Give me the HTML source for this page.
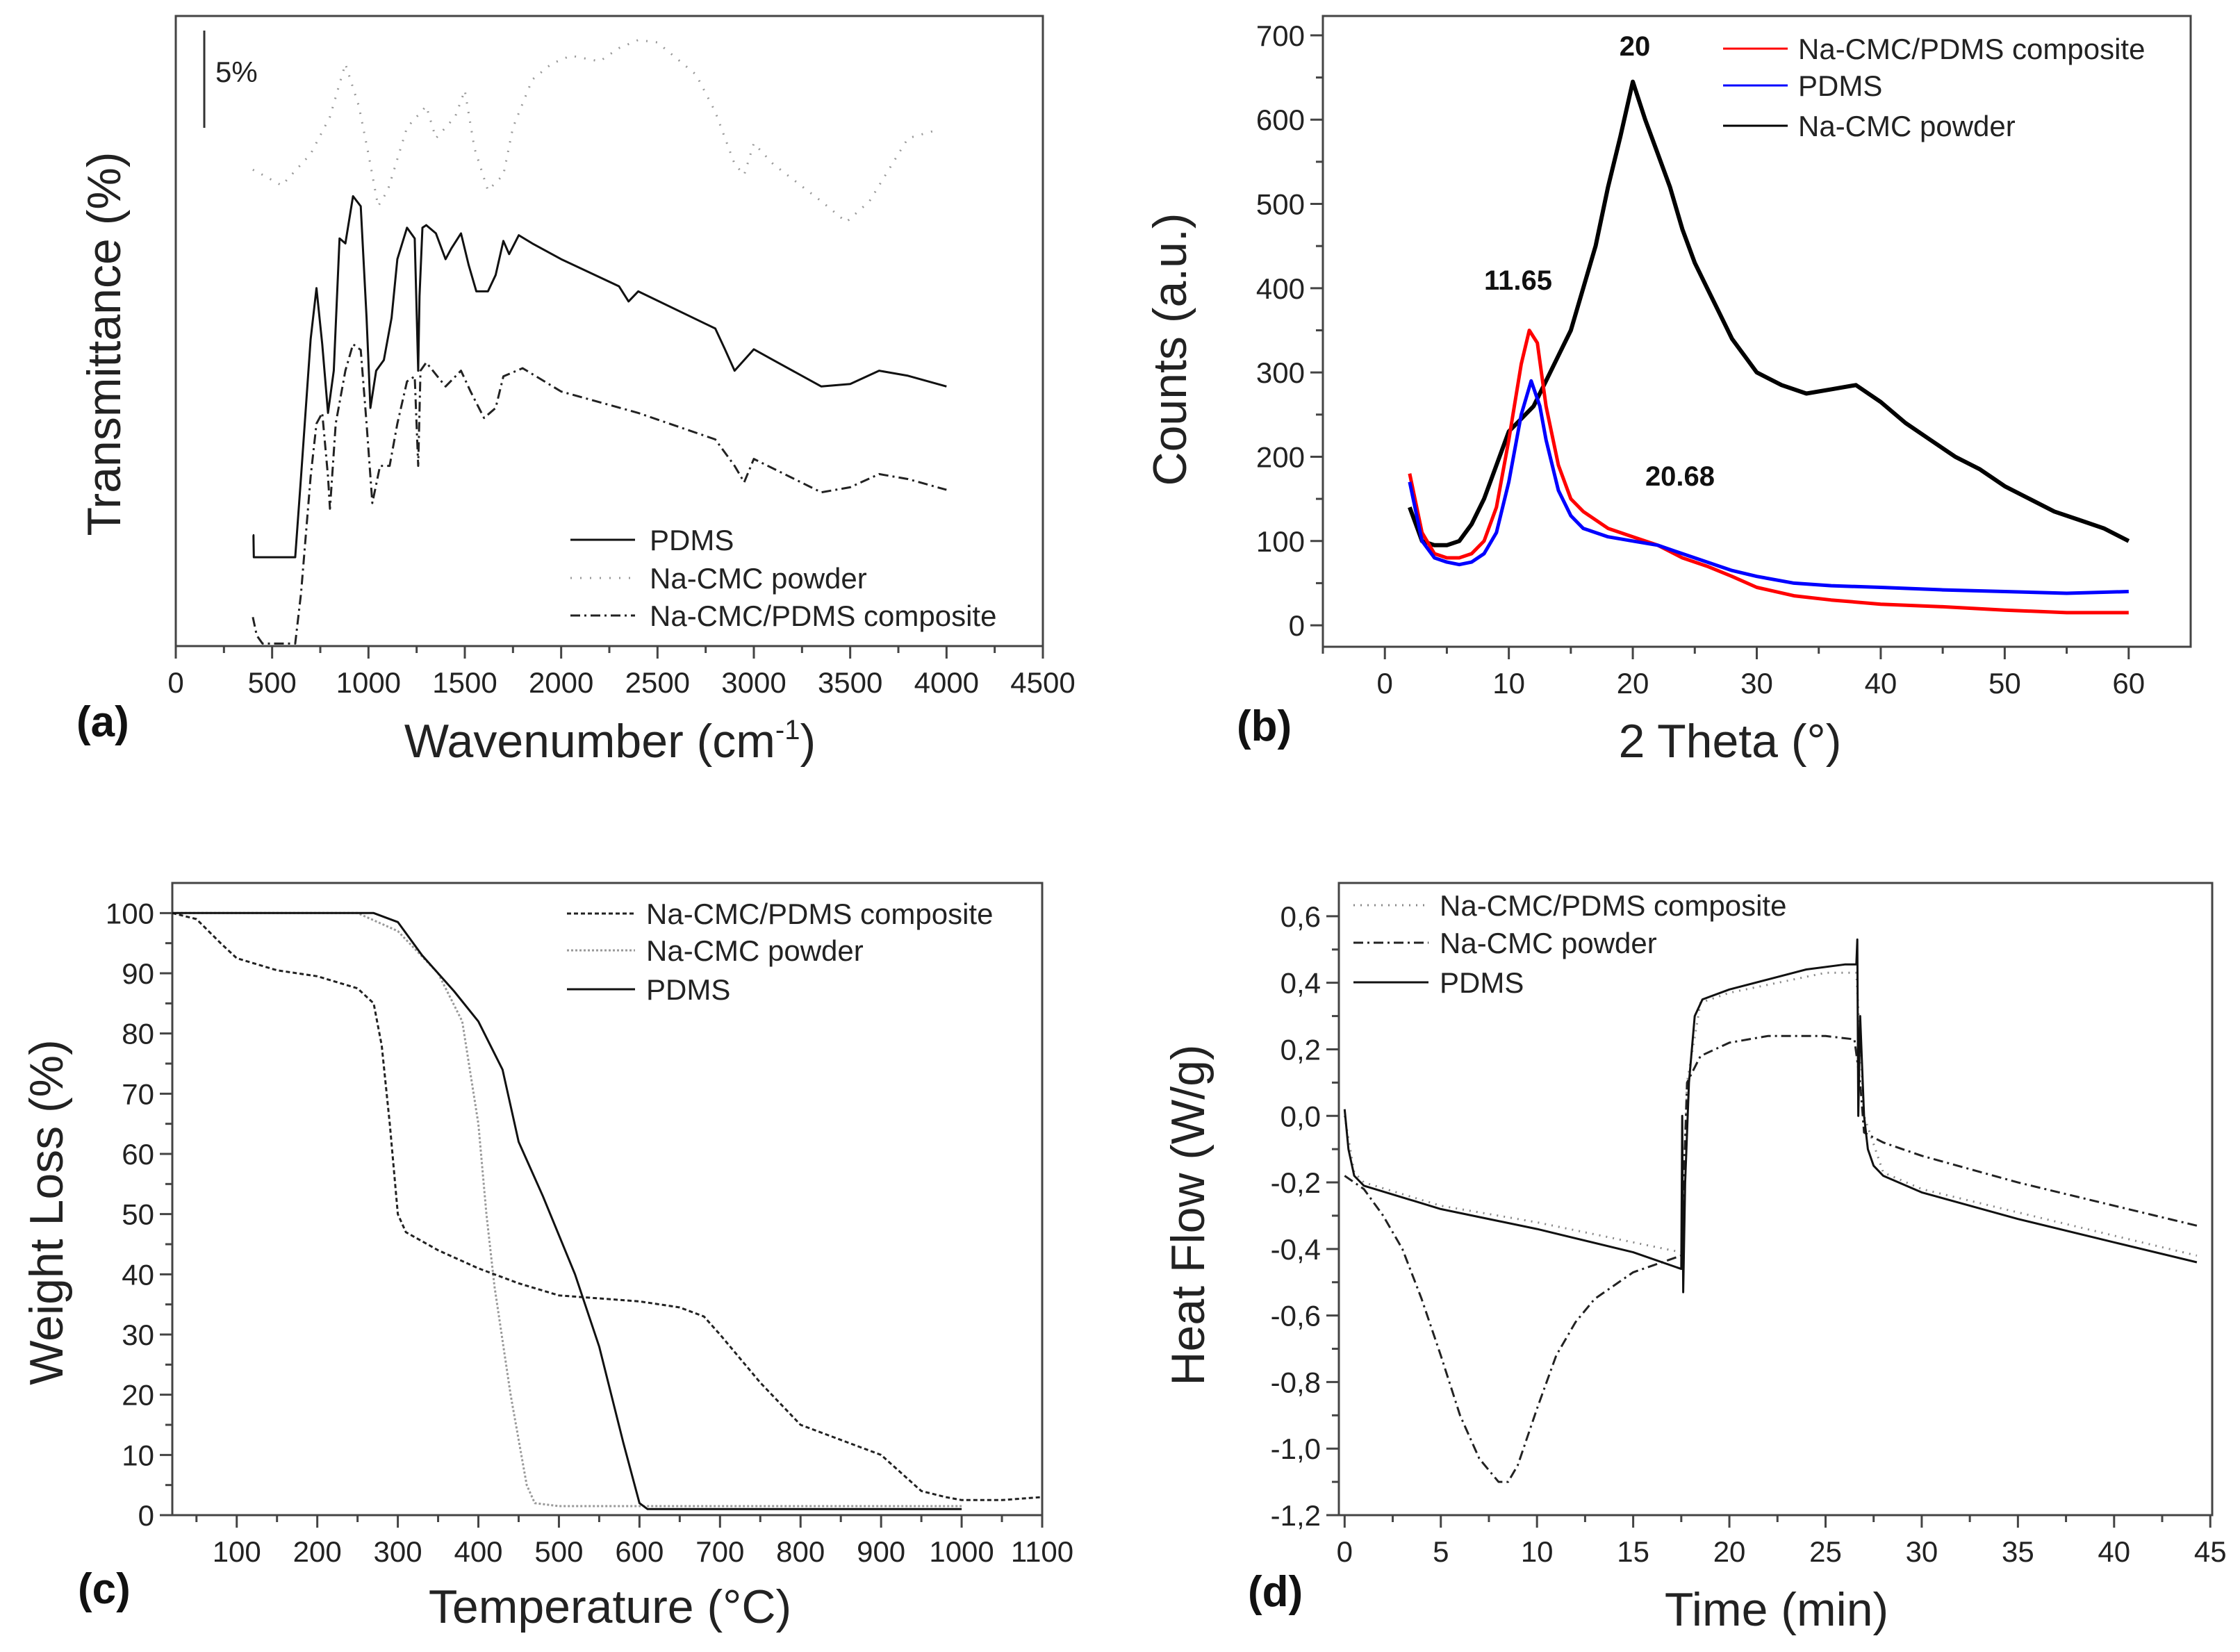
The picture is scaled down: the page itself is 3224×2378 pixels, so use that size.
<!DOCTYPE html>
<html><head><meta charset="utf-8">
<style>
html,body{margin:0;padding:0;background:#fff;}
svg{display:block;font-family:"Liberation Sans",Arial,sans-serif;}
.tk{font-size:42px;fill:#222;}
.ttl{font-size:68px;fill:#222;}
.lg{font-size:42px;fill:#222;}
.pl{font-size:62px;font-weight:bold;fill:#111;}
</style></head>
<body>
<svg id="fig" width="3224" height="2378" viewBox="0 0 3224 2378" xmlns="http://www.w3.org/2000/svg">
<rect width="3224" height="2378" fill="#fff"/>
<text class="ttl" x="155" y="495" text-anchor="middle" dominant-baseline="middle" transform="rotate(-90 155 495)">Transmittance (%)</text>
<text class="ttl" x="878" y="1090" text-anchor="middle">Wavenumber (cm<tspan dy="-26" font-size="40">-1</tspan><tspan dy="26">)</tspan></text>
<text class="pl" x="110" y="1060">(a)</text>
<line x1="294" y1="44" x2="294" y2="184" stroke="#333" stroke-width="3"/>
<text class="tk" x="310" y="118">5%</text>

<text class="ttl" x="1689" y="503" text-anchor="middle" dominant-baseline="middle" transform="rotate(-90 1689 503)">Counts (a.u.)</text>
<text class="ttl" x="2490" y="1090" text-anchor="middle">2 Theta (°)</text>
<text class="pl" x="1780" y="1066">(b)</text>
<text x="2353" y="80" font-size="40" font-weight="bold" text-anchor="middle" fill="#111">20</text>
<text x="2185" y="417" font-size="40" font-weight="bold" text-anchor="middle" fill="#111">11.65</text>
<text x="2418" y="699" font-size="40" font-weight="bold" text-anchor="middle" fill="#111">20.68</text>

<text class="ttl" x="72" y="1745" text-anchor="middle" dominant-baseline="middle" transform="rotate(-90 72 1745)">Weight Loss (%)</text>
<text class="ttl" x="878" y="2336" text-anchor="middle">Temperature (°C)</text>
<text class="pl" x="112" y="2308">(c)</text>

<text class="ttl" x="1715" y="1749" text-anchor="middle" dominant-baseline="middle" transform="rotate(-90 1715 1749)">Heat Flow (W/g)</text>
<text class="ttl" x="2557" y="2340" text-anchor="middle">Time (min)</text>
<text class="pl" x="1796" y="2312">(d)</text>
</svg>
<script>
// ---------- Panel (a) FTIR ----------
const aPdmsX=[400,403,405,620,650,700,730,760,790,820,850,880,920,960,990,1010,1040,1080,1120,1150,1200,1240,1258,1265,1280,1300,1350,1400,1430,1480,1520,1560,1620,1660,1700,1730,1780,1850,2000,2300,2350,2400,2800,2850,2900,2950,3000,3100,3350,3500,3650,3800,4000];
const aPdmsY=[17.6,17.6,14.1,14.1,26.9,48.7,56.8,47.9,37,43.7,64.7,63.9,71.4,69.8,52.1,37.8,43.7,45.4,52.1,61.4,66.4,64.7,43.7,55.5,66.4,66.8,65.5,61.4,63.1,65.5,60.5,56.3,56.3,58.9,64.3,62.2,65.2,63.9,61.4,57.1,54.7,56.3,50.4,47.1,43.7,45.4,47.1,45.4,41.2,41.6,43.7,42.9,41.2];
const aCompX=[400,420,450,620,650,700,730,760,790,800,830,880,920,960,990,1020,1060,1110,1150,1200,1240,1258,1270,1300,1400,1480,1530,1600,1660,1700,1800,2000,2400,2800,2900,2950,3000,3350,3500,3650,3800,4000];
const aCompY=[4.6,1.7,0.4,0.4,8.4,26.9,35.3,37,26.9,21.8,35.3,43.7,47.9,47,35.3,22.7,28.6,28.6,35.3,42,42.8,28.6,43.7,45,41.2,43.7,40.4,36.2,37.8,42.8,44.1,40.4,37,32.8,28.6,26,29.7,24.4,25.2,27.3,26.5,24.8];
const aPowX=[400,450,550,700,800,880,950,1000,1050,1100,1200,1300,1350,1450,1500,1550,1620,1700,1750,1850,1950,2050,2200,2300,2400,2500,2700,2800,2900,2950,3000,3100,3350,3480,3600,3700,3800,3950];
const aPowY=[75.6,74.8,73.1,78.1,84,92.4,85.7,78.1,69.8,72.3,82.3,85.7,80.6,84,88.2,79,72.3,74.8,82.3,89.9,92.4,93.7,92.8,94.9,96.2,95.8,90.7,84.8,76.5,74.8,79.8,76.5,70.6,67.3,70.6,75.6,80.6,81.9];
const aXTicks=[0,500,1000,1500,2000,2500,3000,3500,4000,4500];

// ---------- Panel (b) XRD ----------
const bBlackX=[2,3,4,5,6,7,8,9,10,11,12,13,14,15,16,17,18,19,20,21,22,23,24,25,26,27,28,29,30,32,34,36,38,40,42,44,46,48,50,52,54,56,58,60];
const bBlackY=[140,100,95,95,100,120,150,190,230,245,260,290,320,350,400,450,520,580,645,600,560,520,470,430,400,370,340,320,300,285,275,280,285,265,240,220,200,185,165,150,135,125,115,100];
const bRedX=[2,3,4,5,6,7,8,9,10,11,11.65,12.3,13,14,15,16,18,20,22,24,26,28,30,33,36,40,45,50,55,60];
const bRedY=[180,110,85,80,80,85,100,140,220,310,350,335,260,190,150,135,115,105,95,80,70,58,45,35,30,25,22,18,15,15];
const bBlueX=[2,3,4,5,6,7,8,9,10,11,11.8,12.5,13,14,15,16,18,20,22,24,26,28,30,33,36,40,45,50,55,60];
const bBlueY=[170,100,80,75,72,75,85,110,170,250,290,260,220,160,130,115,105,100,95,85,75,65,58,50,47,45,42,40,38,40];
const bXTicks=[0,10,20,30,40,50,60];
const bYTicks=[0,100,200,300,400,500,600,700];

// ---------- Panel (c) TGA ----------
const cCompX=[20,50,80,100,150,200,250,270,280,290,300,310,350,400,450,500,550,600,650,680,700,750,800,850,900,950,980,1000,1050,1100];
const cCompY=[100,99,95,92.5,90.5,89.5,87.5,85,78,65,50,47,44,41,38.5,36.5,36,35.5,34.5,33,30,22,15,12.5,10,4,3,2.5,2.5,3];
const cPowX=[20,250,300,350,380,400,410,420,440,460,470,500,1000];
const cPowY=[100,100,97,90,82,65,50,38,20,5,2,1.5,1.5];
const cPdmsX=[20,270,300,330,370,400,430,450,480,520,550,580,600,610,1000];
const cPdmsY=[100,100,98.5,93,87,82,74,62,53,40,28,12,2,1,1];
const cXTicks=[100,200,300,400,500,600,700,800,900,1000,1100];
const cYTicks=[0,10,20,30,40,50,60,70,80,90,100];

// ---------- Panel (d) DSC ----------
const dPdmsX=[0,0.2,0.5,1,5,10,15,17.5,17.55,17.6,17.7,17.9,18.2,18.6,20,22,24,26,26.6,26.65,26.7,26.8,27,27.2,27.5,28,30,35,40,44.3];
const dPdmsY=[0.02,-0.1,-0.18,-0.21,-0.28,-0.34,-0.41,-0.46,0.0,-0.53,-0.2,0.1,0.3,0.35,0.38,0.41,0.44,0.455,0.455,0.53,0.0,0.3,0.0,-0.1,-0.15,-0.18,-0.23,-0.31,-0.38,-0.44];
const dCompX=[0,0.5,1,5,10,15,17.5,17.8,18.5,20,25,26.6,27,28,30,35,40,44.3];
const dCompY=[0,-0.17,-0.2,-0.27,-0.32,-0.38,-0.41,0.1,0.34,0.37,0.43,0.43,0.0,-0.17,-0.22,-0.29,-0.36,-0.42];
const dPowX=[0,1,2,3,4,5,6,7,8,8.5,9,10,11,12,13,15,17.5,17.8,18.5,20,22,25,26.5,26.8,27,28,30,35,40,44.3];
const dPowY=[-0.18,-0.22,-0.3,-0.4,-0.55,-0.72,-0.9,-1.03,-1.1,-1.1,-1.05,-0.88,-0.72,-0.62,-0.55,-0.47,-0.42,0.1,0.18,0.22,0.24,0.24,0.23,0.1,-0.05,-0.08,-0.12,-0.2,-0.27,-0.33];
const dXTicks=[0,5,10,15,20,25,30,35,40,45];
const dYTicks=[-1.2,-1.0,-0.8,-0.6,-0.4,-0.2,0.0,0.2,0.4,0.6];

const NS='http://www.w3.org/2000/svg';
const svg=document.getElementById('fig');
function mk(tag,attrs){const e=document.createElementNS(NS,tag);for(const k in attrs)e.setAttribute(k,attrs[k]);svg.appendChild(e);return e;}
function scale(d0,d1,p0,p1){return v=>p0+(v-d0)/(d1-d0)*(p1-p0);}

function panel(p,id){
  const fr=mk('rect',{x:p.L,y:p.T,width:p.R-p.L,height:p.B-p.T,fill:'none',stroke:'#444','stroke-width':3});
  
  
  const sx=scale(p.x0,p.x1,p.L,p.R), sy=scale(p.y0,p.y1,p.B,p.T);
  p.xticks.forEach((v,i)=>{
    const x=sx(v);
    const t=mk('line',{x1:x,y1:p.B,x2:x,y2:p.B+18,stroke:'#444','stroke-width':3});
    
    
    const lb=mk('text',{x:x,y:p.B+67,'text-anchor':'middle',class:'tk'});
    lb.textContent=p.xfmt?p.xfmt(v):v;
    
    
    if(i<p.xticks.length-1){
      const m=mk('line',{x1:sx(v+p.xminor),y1:p.B,x2:sx(v+p.xminor),y2:p.B+10,stroke:'#444','stroke-width':3});
      
      
    }
  });
  if(p.xpre!==undefined){const m=mk('line',{x1:sx(p.xpre),y1:p.B,x2:sx(p.xpre),y2:p.B+10,stroke:'#444','stroke-width':3});
    
    }
  (p.yticks||[]).forEach((v,i)=>{
    const y=sy(v);
    const t=mk('line',{x1:p.L-18,y1:y,x2:p.L,y2:y,stroke:'#444','stroke-width':3});
    
    
    const lb=mk('text',{x:p.L-26,y:y+15,'text-anchor':'end',class:'tk'});
    lb.textContent=p.yfmt?p.yfmt(v):v;
    
    
    if(i<p.yticks.length-1){
      const m=mk('line',{x1:p.L-10,y1:sy(v+p.yminor),x2:p.L,y2:sy(v+p.yminor),stroke:'#444','stroke-width':3});
      
      
    }
  });
  return {sx,sy};
}
function series(ax,xs,ys,style,name){
  const d=xs.map((x,i)=>(i?'L':'M')+ax.sx(x).toFixed(1)+' '+ax.sy(ys[i]).toFixed(1)).join(' ');
  const path=mk('path',Object.assign({d:d,fill:'none','stroke-linejoin':'round'},style));
  
  
}
function legend(x1,x2,tx,y,style,label,name){
  const l=mk('line',Object.assign({x1:x1,y1:y,x2:x2,y2:y},style));
  
  
  const t=mk('text',{x:tx,y:y+15,class:'lg'});
  t.textContent=label;
  
  
}

const solid={stroke:'#111','stroke-width':3};
const dashdot={stroke:'#222','stroke-width':3,'stroke-dasharray':'14 6 3 6'};
const dotted={stroke:'#999','stroke-width':3,'stroke-dasharray':'2 12'};

// (a)
const A=panel({L:253,R:1501,T:23,B:930,x0:0,x1:4500,y0:0,y1:100,xticks:aXTicks,xminor:250},'a');
series(A,aPowX,aPowY,dotted,'a-line-na-cmc-powder');
series(A,aPdmsX,aPdmsY,solid,'a-line-pdms');
series(A,aCompX,aCompY,dashdot,'a-line-composite');
legend(821,914,935,777,solid,'PDMS','a-legend-pdms');
legend(821,914,935,832,dotted,'Na-CMC powder','a-legend-na-cmc-powder');
legend(821,914,935,886,dashdot,'Na-CMC/PDMS composite','a-legend-composite');

// (b)
const B=panel({L:1904,R:3153,T:23,B:931,x0:-5,x1:65,y0:-25.5,y1:723,xticks:bXTicks,xminor:5,xpre:-5,yticks:bYTicks,yminor:50},'b');
series(B,bBlackX,bBlackY,{stroke:'#000','stroke-width':6},'b-line-na-cmc-powder');
series(B,bRedX,bRedY,{stroke:'#f00','stroke-width':5},'b-line-composite');
series(B,bBlueX,bBlueY,{stroke:'#00f','stroke-width':5},'b-line-pdms');
legend(2480,2573,2588,70,{stroke:'#f00','stroke-width':3},'Na-CMC/PDMS composite','b-legend-composite');
legend(2480,2573,2588,123,{stroke:'#00f','stroke-width':3},'PDMS','b-legend-pdms');
legend(2480,2573,2588,181,{stroke:'#000','stroke-width':3},'Na-CMC powder','b-legend-na-cmc-powder');

// (c)
const C=panel({L:248,R:1500,T:1271,B:2181,x0:20,x1:1100,y0:0,y1:105,xticks:cXTicks,xminor:50,xpre:50,yticks:cYTicks,yminor:5},'c');
const cdash={stroke:'#222','stroke-width':3,'stroke-dasharray':'6 4'};
const cdot={stroke:'#999','stroke-width':3,'stroke-dasharray':'3 3'};
series(C,cPowX,cPowY,cdot,'c-line-na-cmc-powder');
series(C,cCompX,cCompY,cdash,'c-line-composite');
series(C,cPdmsX,cPdmsY,solid,'c-line-pdms');
legend(816,914,930,1315,cdash,'Na-CMC/PDMS composite','c-legend-composite');
legend(816,914,930,1368,cdot,'Na-CMC powder','c-legend-na-cmc-powder');
legend(816,914,930,1424,solid,'PDMS','c-legend-pdms');

// (d)
const D=panel({L:1927,R:3184,T:1271,B:2181,x0:-0.3,x1:45.1,y0:-1.2,y1:0.7,xticks:dXTicks,xminor:2.5,yticks:dYTicks,yminor:0.1,yfmt:v=>v.toFixed(1).replace('.',',').replace('-0,0','0,0')},'d');
const ddot={stroke:'#888','stroke-width':3,'stroke-dasharray':'2 8'};
series(D,dCompX,dCompY,ddot,'d-line-composite');
series(D,dPowX,dPowY,dashdot,'d-line-na-cmc-powder');
series(D,dPdmsX,dPdmsY,solid,'d-line-pdms');
legend(1948,2056,2072,1303,ddot,'Na-CMC/PDMS composite','d-legend-composite');
legend(1948,2056,2072,1357,dashdot,'Na-CMC powder','d-legend-na-cmc-powder');
legend(1948,2056,2072,1414,solid,'PDMS','d-legend-pdms');
</script>
</body></html>
